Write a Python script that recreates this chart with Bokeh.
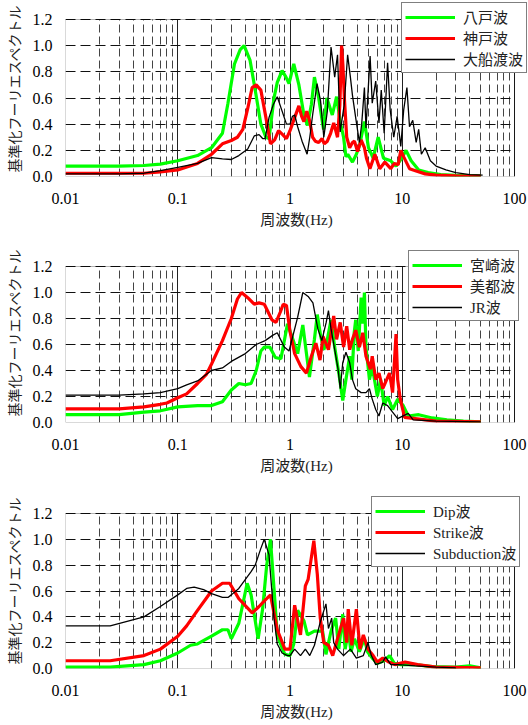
from bokeh.plotting import figure
from bokeh.layouts import column
from bokeh.models import (Range1d, FixedTicker, CustomJSTickFormatter,
                          NumeralTickFormatter, Legend, LegendItem, BoxAnnotation)
from bokeh.embed import file_html
from bokeh.resources import INLINE

# ---------------- data (frequency Hz, normalized spectrum) ----------------
# Panel 1
hachinohe_f = [0.01, 0.03, 0.05, 0.07, 0.1, 0.15, 0.2, 0.25, 0.28, 0.32, 0.36, 0.39, 0.44, 0.49, 0.55, 0.61, 0.65, 0.72, 0.77, 0.85, 0.92, 0.98,
               1.08, 1.2, 1.33, 1.43, 1.55, 1.65, 1.8, 1.99, 2.13, 2.38, 2.6, 2.8, 3.0, 3.15, 3.27, 3.6, 3.9, 4.2, 4.6, 5.0, 5.5, 6.1, 6.8,
               7.9, 8.8, 9.9, 10.8, 12.0, 14.0, 17.0, 22.0, 30.0, 50.0]
hachinohe_v = [0.08, 0.08, 0.084, 0.095, 0.12, 0.16, 0.22, 0.33, 0.56, 0.86, 0.97, 1.0, 0.89, 0.66, 0.4, 0.3, 0.29, 0.6, 0.72, 0.81, 0.76, 0.71,
               0.86, 0.7, 0.47, 0.39, 0.55, 0.76, 0.6, 0.36, 0.6, 0.47, 0.61, 0.42, 0.3, 0.15, 0.17, 0.11, 0.17, 0.25, 0.42, 0.22, 0.14, 0.3, 0.14,
               0.12, 0.08, 0.14, 0.2, 0.12, 0.05, 0.03, 0.015, 0.008, 0.005]

kobe_f = [0.01, 0.03, 0.05, 0.07, 0.1, 0.15, 0.2, 0.25, 0.3, 0.34, 0.38, 0.42, 0.46, 0.5, 0.55, 0.61, 0.67, 0.73, 0.79, 0.86, 0.93, 1.0,
          1.1, 1.2, 1.27, 1.33, 1.41, 1.5, 1.59, 1.68, 1.8, 1.93, 2.02, 2.15, 2.3, 2.45, 2.65, 2.78, 2.88, 2.96, 3.05, 3.2, 3.4, 3.6, 3.75,
          4.0, 4.3, 4.6, 4.8, 5.15, 5.7, 6.3, 7.0, 7.9, 8.5, 9.2, 9.7, 10.3, 11.6, 13.5, 16.0, 20.0, 30.0, 50.0]
kobe_v = [0.025, 0.025, 0.025, 0.035, 0.05, 0.1, 0.17, 0.25, 0.275, 0.3, 0.36, 0.52, 0.68, 0.7, 0.66, 0.45, 0.25, 0.28, 0.35, 0.32, 0.29, 0.35,
          0.45, 0.54, 0.46, 0.42, 0.5, 0.42, 0.3, 0.27, 0.26, 0.29, 0.25, 0.27, 0.33, 0.41, 0.3, 0.55, 1.0, 0.85, 0.6, 0.3, 0.22, 0.26, 0.27,
          0.19, 0.28, 0.22, 0.14, 0.06, 0.17, 0.06, 0.11, 0.06, 0.1, 0.09, 0.2, 0.15, 0.06, 0.04, 0.02, 0.01, 0.005, 0.003]

ofunato_f = [0.01, 0.03, 0.05, 0.07, 0.1, 0.15, 0.2, 0.25, 0.3, 0.35, 0.42, 0.48, 0.53, 0.57, 0.6, 0.65, 0.71, 0.77, 0.85, 0.93, 1.0, 1.05,
             1.1, 1.17, 1.28, 1.42, 1.5, 1.59, 1.74, 1.87, 2.0, 2.15, 2.32, 2.5, 2.65, 2.8, 3.04, 3.26, 3.45, 3.6, 3.86, 4.15, 4.35, 4.6,
             4.75, 5.17, 5.4, 5.8, 6.2, 6.5, 6.9, 7.4, 7.8, 8.4, 9.0, 9.7, 10.3, 11.0, 11.6, 12.4, 13.3, 14.0, 14.8, 16.0, 17.8, 20.0,
             24.5, 30.0, 40.0, 52.0]
ofunato_v = [0.02, 0.02, 0.025, 0.045, 0.07, 0.1, 0.145, 0.135, 0.13, 0.16, 0.21, 0.31, 0.32, 0.29, 0.29, 0.45, 0.55, 0.61, 0.5, 0.4, 0.4, 0.46,
             0.47, 0.38, 0.27, 0.17, 0.3, 0.47, 0.71, 0.58, 0.3, 0.5, 0.99, 0.76, 0.93, 0.34, 0.55, 0.93, 0.76, 0.62, 0.44, 0.26, 0.4, 0.68,
             0.37, 0.92, 0.56, 0.73, 0.41, 0.66, 0.33, 0.87, 0.51, 0.3, 0.46, 0.23, 0.51, 0.68, 0.38, 0.43, 0.26, 0.36, 0.17, 0.22, 0.12, 0.08,
             0.05, 0.03, 0.015, 0.01]

# Panel 2
miyazaki_f = [0.01, 0.03, 0.05, 0.07, 0.1, 0.15, 0.2, 0.25, 0.3, 0.35, 0.4, 0.45, 0.5, 0.55, 0.59, 0.66, 0.74, 0.83, 0.95, 1.06, 1.17, 1.3,
              1.49, 1.65, 1.75, 1.88, 2.0, 2.15, 2.32, 2.5, 2.72, 2.95, 3.15, 3.4, 3.55, 3.73, 3.85, 4.05, 4.3, 4.45, 4.6, 4.75, 5.1, 5.4,
              6.0, 6.4, 6.9, 7.4, 8.2, 9.1, 10.2, 11.3, 14.0, 18.5, 25.0, 35.0, 50.0]
miyazaki_v = [0.06, 0.06, 0.08, 0.09, 0.12, 0.13, 0.13, 0.16, 0.25, 0.3, 0.29, 0.3, 0.4, 0.55, 0.58, 0.58, 0.5, 0.49, 0.76, 0.64, 0.53, 0.75,
              0.35, 0.64, 0.83, 0.66, 0.56, 0.64, 0.79, 0.58, 0.38, 0.17, 0.33, 0.51, 0.33, 0.69, 0.79, 0.55, 0.96, 0.76, 1.0, 0.58, 0.33, 0.43,
              0.2, 0.33, 0.13, 0.2, 0.1, 0.18, 0.13, 0.05, 0.06, 0.035, 0.02, 0.01, 0.005]

mito_f = [0.01, 0.03, 0.05, 0.07, 0.08, 0.1, 0.12, 0.15, 0.18, 0.2, 0.25, 0.3, 0.34, 0.37, 0.42, 0.48, 0.53, 0.59, 0.69, 0.75, 0.82, 0.87,
          0.93, 1.0, 1.1, 1.25, 1.4, 1.55, 1.7, 1.85, 1.97, 2.2, 2.45, 2.6, 2.8, 3.0, 3.2, 3.4, 3.6, 3.85, 4.15, 4.45, 4.75, 5.2, 5.4,
          5.8, 6.2, 6.7, 7.1, 7.7, 8.2, 8.8, 9.1, 9.6, 10.5, 13.0, 20.0, 50.0]
mito_v = [0.105, 0.105, 0.12, 0.14, 0.15, 0.19, 0.22, 0.3, 0.37, 0.45, 0.63, 0.8, 0.95, 1.0, 0.96, 0.91, 0.92, 0.91, 0.79, 0.77, 0.85, 0.91,
          0.9, 0.7, 0.53, 0.43, 0.38, 0.51, 0.61, 0.48, 0.66, 0.56, 0.82, 0.64, 0.77, 0.58, 0.74, 0.56, 0.64, 0.71, 0.58, 0.69, 0.51, 0.41, 0.51,
          0.33, 0.38, 0.26, 0.31, 0.38, 0.23, 0.68, 0.33, 0.18, 0.04, 0.03, 0.01, 0.005]

jr_f = [0.01, 0.03, 0.05, 0.07, 0.1, 0.12, 0.15, 0.2, 0.25, 0.3, 0.4, 0.5, 0.6, 0.7, 0.77, 0.89, 0.98, 1.17, 1.3, 1.45, 1.6, 1.77, 1.92,
        2.1, 2.2, 2.32, 2.5, 2.68, 2.8, 2.95, 3.15, 3.4, 3.6, 3.85, 4.3, 4.75, 5.1, 5.4, 5.8, 6.2, 6.7, 7.4, 8.2, 9.1, 11.3, 12.5, 20.0, 50.0]
jr_v = [0.21, 0.21, 0.22, 0.23, 0.26, 0.29, 0.32, 0.4, 0.42, 0.47, 0.53, 0.6, 0.63, 0.67, 0.69, 0.58, 0.55, 0.81, 1.0, 0.97, 0.92, 0.72, 0.63,
        0.77, 0.86, 0.72, 0.56, 0.41, 0.26, 0.46, 0.54, 0.46, 0.33, 0.26, 0.23, 0.23, 0.26, 0.18, 0.1, 0.05, 0.15, 0.13, 0.08, 0.03, 0.07, 0.02,
        0.01, 0.005]

# Panel 3
dip_f = [0.01, 0.025, 0.05, 0.07, 0.1, 0.13, 0.15, 0.2, 0.25, 0.28, 0.3, 0.35, 0.415, 0.45, 0.52, 0.57, 0.62, 0.67, 0.72, 0.77, 0.85, 0.9,
         1.0, 1.08, 1.17, 1.33, 1.43, 1.65, 1.95, 2.09, 2.32, 2.55, 2.72, 2.95, 3.1, 3.3, 3.5, 3.75, 4.15, 4.6, 4.9, 5.4, 6.0, 6.9, 7.7,
         8.5, 9.7, 13.0, 18.5, 30.0, 40.0, 50.0]
dip_v = [0.01, 0.01, 0.03, 0.06, 0.12, 0.18, 0.19, 0.25, 0.3, 0.3, 0.23, 0.35, 0.66, 0.57, 0.23, 0.46, 0.8, 1.0, 0.62, 0.26, 0.16, 0.11,
         0.1, 0.19, 0.45, 0.37, 0.26, 0.29, 0.29, 0.11, 0.29, 0.39, 0.15, 0.42, 0.15, 0.29, 0.13, 0.23, 0.13, 0.23, 0.13, 0.08, 0.04, 0.06, 0.1,
         0.04, 0.03, 0.03, 0.015, 0.01, 0.02, 0.005]

strike_f = [0.01, 0.025, 0.05, 0.07, 0.1, 0.12, 0.15, 0.2, 0.25, 0.29, 0.35, 0.46, 0.53, 0.6, 0.67, 0.77, 0.9, 1.0, 1.1, 1.24, 1.37, 1.45,
            1.63, 1.75, 1.86, 2.0, 2.2, 2.4, 2.65, 3.0, 3.2, 3.3, 3.55, 3.9, 4.2, 4.5, 4.95, 5.5, 6.0, 6.7, 7.6, 8.6, 10.6, 13.7, 20.0, 50.0]
strike_v = [0.06, 0.06, 0.1, 0.15, 0.25, 0.33, 0.45, 0.6, 0.66, 0.66, 0.54, 0.43, 0.48, 0.53, 0.57, 0.3, 0.15, 0.15, 0.49, 0.26, 0.64, 0.69,
            0.99, 0.73, 0.39, 0.2, 0.18, 0.1, 0.23, 0.39, 0.2, 0.46, 0.18, 0.46, 0.15, 0.26, 0.15, 0.1, 0.05, 0.08, 0.05, 0.03, 0.05, 0.03, 0.01,
            0.005]

subduction_f = [0.01, 0.025, 0.05, 0.07, 0.1, 0.12, 0.14, 0.17, 0.2, 0.25, 0.28, 0.3, 0.35, 0.45, 0.49, 0.55, 0.59, 0.65, 0.72, 0.77, 0.85,
                0.95, 1.0, 1.1, 1.24, 1.37, 1.5, 1.65, 1.86, 2.09, 2.2, 2.35, 2.45, 2.65, 3.0, 3.45, 3.9, 4.5, 4.95, 5.3, 5.8, 6.7, 7.1, 7.9,
                9.2, 13.0, 20.0, 30.0]
subduction_v = [0.33, 0.33, 0.4, 0.48, 0.57, 0.62, 0.63, 0.61, 0.58, 0.55, 0.55, 0.57, 0.62, 0.75, 0.8, 0.93, 1.0, 0.88, 0.39, 0.19, 0.12,
                0.1, 0.1, 0.15, 0.1, 0.15, 0.1, 0.18, 0.36, 0.5, 0.31, 0.39, 0.2, 0.15, 0.1, 0.15, 0.08, 0.1, 0.2, 0.1, 0.03, 0.05, 0.09, 0.03,
                0.03, 0.02, 0.01, 0.005]

x_ticks = [0.01, 0.1, 1, 10, 100]
y_ticks = [0.0, 0.2, 0.4, 0.6, 0.8, 1.0, 1.2]
y_label = "基準化フーリエスペクトル"
x_label = "周波数(Hz)"

X_MIN, X_MAX, Y_MIN, Y_MAX = 0.01, 100.0, 0.0, 1.2

GREEN = "#00ff00"
RED = "#ff0000"
BLACK = "#000000"
SERIF = "'Liberation Serif', 'Noto Sans CJK JP'"
CJK = "'Noto Sans CJK JP'"

minor = [k * 10.0 ** d for d in range(-2, 2) for k in range(2, 10)]

FIG_W = 528
LEFT = 64          # space for y axis
DATA_W = 450       # pixel width of the 0.01..100 region
RIGHT_EXTRA = 13   # the frame reaches past 100 so the legend can overhang
RIGHT = FIG_W - LEFT - DATA_W - RIGHT_EXTRA


def make_panel(series, top_pad, extra_top, data_h, bottom, legend_xy):
    frame_h = data_h + extra_top
    x_end = X_MAX * 10 ** (4.0 * RIGHT_EXTRA / DATA_W)
    y_end = Y_MAX * frame_h / data_h
    p = figure(width=FIG_W, height=top_pad + frame_h + bottom, x_axis_type="log",
               x_range=Range1d(X_MIN, x_end), y_range=Range1d(Y_MIN, y_end),
               output_backend="svg", toolbar_location=None,
               min_border_left=LEFT, min_border_right=RIGHT,
               min_border_top=top_pad, min_border_bottom=bottom)
    xt = FixedTicker(ticks=x_ticks, minor_ticks=minor)
    yt = FixedTicker(ticks=y_ticks)
    p.xaxis.ticker = xt
    p.yaxis.ticker = yt
    p.xgrid.ticker = xt
    p.ygrid.ticker = yt
    p.xaxis.formatter = CustomJSTickFormatter(code="return tick.toString();")
    p.yaxis.formatter = NumeralTickFormatter(format="0.0")
    p.xaxis.bounds = (X_MIN, X_MAX)
    p.yaxis.bounds = (Y_MIN, Y_MAX)

    p.xgrid.cross_bounds = (Y_MIN, Y_MAX)
    p.ygrid.cross_bounds = (X_MIN, X_MAX)
    p.xgrid.grid_line_color = "#222222"
    p.xgrid.grid_line_width = 1
    p.xgrid.minor_grid_line_color = "#444444"
    p.xgrid.minor_grid_line_dash = "8 4"
    p.xgrid.minor_grid_line_width = 1
    p.ygrid.grid_line_color = "#111111"
    p.ygrid.grid_line_dash = "10 5"
    p.ygrid.grid_line_width = 1

    for ax in (p.xaxis, p.yaxis):
        ax.major_tick_line_color = None
        ax.minor_tick_line_color = None
        ax.axis_line_color = None
        ax.major_label_text_font = SERIF
        ax.major_label_text_font_size = "16px"
        ax.major_label_text_color = "black"
        ax.axis_label_text_font_style = "normal"
        ax.axis_label_text_color = "#222222"
    p.xaxis.major_label_standoff = 10
    p.yaxis.major_label_standoff = 7
    p.yaxis.axis_label = y_label
    p.yaxis.axis_label_text_font = CJK
    p.yaxis.axis_label_text_font_size = "14px"
    p.yaxis.axis_label_standoff = 6
    p.xaxis.axis_label = x_label
    p.xaxis.axis_label_text_font = SERIF
    p.xaxis.axis_label_text_font_size = "15px"
    p.xaxis.axis_label_standoff = 5

    p.outline_line_color = None
    p.background_fill_color = "white"
    p.border_fill_color = "white"

    items = []
    for name, f, v, color, w in series:
        r = p.line(f, v, line_color=color, line_width=w)
        items.append(LegendItem(label=name, renderers=[r]))

    # visible plot-area border at the axis limits
    p.add_layout(BoxAnnotation(left=X_MIN, right=X_MAX, bottom=Y_MIN, top=Y_MAX,
                               fill_alpha=0, line_color="black", line_width=1,
                               level="overlay"))

    leg = Legend(items=items, location=legend_xy)
    leg.border_line_color = "black"
    leg.border_line_width = 1
    leg.background_fill_color = "white"
    leg.background_fill_alpha = 1.0
    leg.label_text_font = SERIF
    leg.label_text_font_size = "15px"
    leg.label_text_color = "#222222"
    leg.glyph_width = 50
    leg.glyph_height = 18
    leg.label_height = 18
    leg.label_standoff = 8
    leg.padding = 3
    leg.spacing = 0
    leg.margin = 0
    p.add_layout(leg)
    return p


p1 = make_panel([
    ("八戸波", hachinohe_f, hachinohe_v, GREEN, 3.2),
    ("神戸波", kobe_f, kobe_v, RED, 3.2),
    ("大船渡波", ofunato_f, ofunato_v, BLACK, 1.3),
], 0, 19, 157, 64, (336, 103))

p2 = make_panel([
    ("宮崎波", miyazaki_f, miyazaki_v, GREEN, 3.2),
    ("美都波", mito_f, mito_v, RED, 3.2),
    ("JR波", jr_f, jr_v, BLACK, 1.3),
], 2, 24, 156, 68, (343, 101))

p3 = make_panel([
    ("Dip波", dip_f, dip_v, GREEN, 3.2),
    ("Strike波", strike_f, strike_v, RED, 3.2),
    ("Subduction波", subduction_f, subduction_v, BLACK, 1.3),
], 2, 21, 155, 57, (306, 101))

layout = column(p1, p2, p3, spacing=0)
open("out.html", "w").write(file_html(layout, INLINE))
